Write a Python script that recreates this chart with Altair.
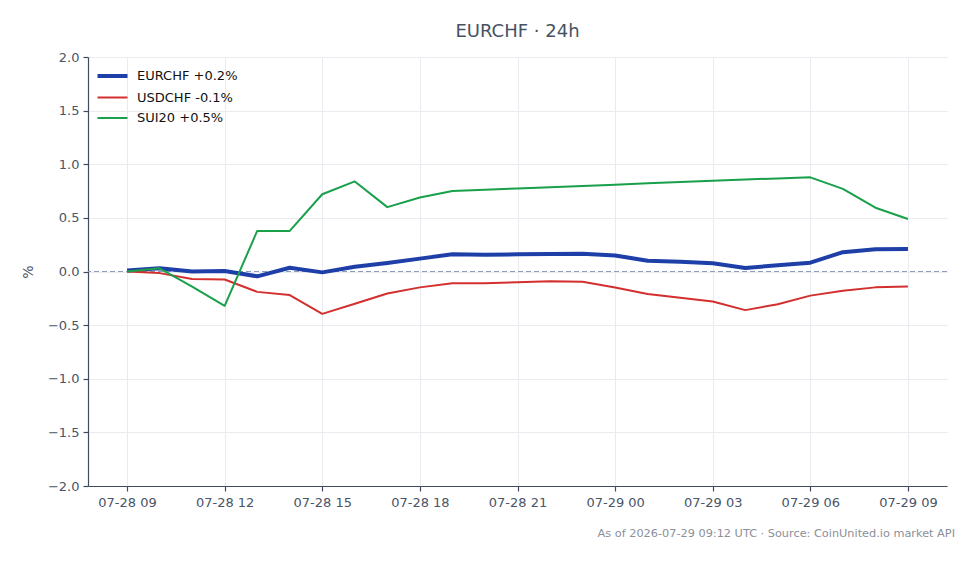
import altair as alt
import pandas as pd

# Hourly timestamps (UTC), 24h window
times = [
    "2026-07-28T09:00:00Z", "2026-07-28T10:00:00Z", "2026-07-28T11:00:00Z",
    "2026-07-28T12:00:00Z", "2026-07-28T13:00:00Z", "2026-07-28T14:00:00Z",
    "2026-07-28T15:00:00Z", "2026-07-28T16:00:00Z", "2026-07-28T17:00:00Z",
    "2026-07-28T18:00:00Z", "2026-07-28T19:00:00Z", "2026-07-28T20:00:00Z",
    "2026-07-28T21:00:00Z", "2026-07-28T22:00:00Z", "2026-07-28T23:00:00Z",
    "2026-07-29T00:00:00Z", "2026-07-29T01:00:00Z", "2026-07-29T02:00:00Z",
    "2026-07-29T03:00:00Z", "2026-07-29T04:00:00Z", "2026-07-29T05:00:00Z",
    "2026-07-29T06:00:00Z", "2026-07-29T07:00:00Z", "2026-07-29T08:00:00Z",
    "2026-07-29T09:00:00Z",
]

# Percent change since start of window
eurchf = [0.01, 0.03, 0.00, 0.005, -0.045, 0.035, -0.008, 0.045, 0.08, 0.12,
          0.16, 0.157, 0.16, 0.163, 0.166, 0.15, 0.10, 0.092, 0.077, 0.033,
          0.058, 0.082, 0.18, 0.207, 0.21]
usdchf = [0.00, -0.015, -0.07, -0.075, -0.19, -0.22, -0.395, -0.30, -0.205, -0.148,
          -0.11, -0.11, -0.10, -0.092, -0.095, -0.15, -0.21, -0.245, -0.28, -0.36,
          -0.305, -0.225, -0.18, -0.148, -0.14]
sui20 = [0.00, 0.03, -0.14, -0.32, 0.378, 0.378, 0.72, 0.84, 0.60, 0.69,
         0.75, 0.762, 0.774, 0.786, 0.798, 0.81, 0.822, 0.834, 0.846, 0.858,
         0.868, 0.878, 0.77, 0.595, 0.49]

series_names = ["EURCHF", "USDCHF", "SUI20"]
series_values = [eurchf, usdchf, sui20]
series_colors = ["#1e3fa8", "#d32f2f", "#18a04a"]
series_widths = [4, 2, 2]

x_ticks = [alt.DateTime(year=2026, month=7, date=d, hours=h, utc=True)
           for d, h in [(28, 9), (28, 12), (28, 15), (28, 18), (28, 21),
                        (29, 0), (29, 3), (29, 6), (29, 9)]]
y_ticks = [-2.0, -1.5, -1.0, -0.5, 0.0, 0.5, 1.0, 1.5, 2.0]

footer = "As of 2026-07-29 09:12 UTC · Source: CoinUnited.io market API"
title = "EURCHF · 24h"

# Legend labels carry the last change of each series
labels = [f"{n} {v[-1]:+.1f}%" for n, v in zip(series_names, series_values)]

rows = []
for lab, vals in zip(labels, series_values):
    for t, v in zip(times, vals):
        rows.append({"time": t, "pct": v, "series": lab})
df = pd.DataFrame(rows)

FONT = "DejaVu Sans"
AXIS_COLOR = "#3f4b5e"
LABEL_COLOR = "#4a5568"
GRID_COLOR = "#e8ecf1"

x_enc = alt.X(
    "time:T",
    scale=alt.Scale(
        type="utc",
        domain=[alt.DateTime(year=2026, month=7, date=28, hours=7, minutes=48, utc=True),
                alt.DateTime(year=2026, month=7, date=29, hours=10, minutes=12, utc=True)],
    ),
    axis=alt.Axis(values=x_ticks, format="%m-%d %H", title=None),
)
y_enc = alt.Y(
    "pct:Q",
    scale=alt.Scale(domain=[-2, 2], nice=False, zero=False),
    axis=alt.Axis(values=y_ticks, format=".1f", title="%"),
)

lines = alt.Chart(df).mark_line(strokeJoin="round", strokeCap="butt").encode(
    x=x_enc,
    y=y_enc,
    color=alt.Color(
        "series:N",
        scale=alt.Scale(domain=labels, range=series_colors),
        legend=alt.Legend(title=None),
        sort=labels,
    ),
    strokeWidth=alt.StrokeWidth(
        "series:N",
        scale=alt.Scale(type="ordinal", domain=labels, range=series_widths),
        legend=alt.Legend(title=None),
        sort=labels,
    ),
    order=alt.Order("time:T"),
)

zero = alt.Chart(pd.DataFrame({"y": [0.0]})).mark_rule(
    color="#8d9cb8", strokeWidth=1, strokeDash=[5, 3]
).encode(y=alt.Y("y:Q"))

foot = alt.Chart(pd.DataFrame({"t": [footer]})).mark_text(
    align="right", baseline="middle", font=FONT, fontSize=11.3, color="#8a8f99"
).encode(text="t:N", x=alt.value(867), y=alt.value(477))

chart = alt.layer(zero, lines, foot).properties(
    width=859,
    height=429,
    padding={"left": 88, "top": 57, "right": 32, "bottom": 78},
    autosize=alt.AutoSizeParams(type="none"),
    background="white",
    title=alt.TitleParams(
        title, font=FONT, fontSize=18, fontWeight="normal", color="#465264",
        anchor="middle", offset=10,
    ),
).configure_view(stroke=None).configure_axis(
    labelFont=FONT, labelFontSize=13, labelColor=LABEL_COLOR,
    titleFont=FONT, titleFontSize=14, titleColor=LABEL_COLOR, titleFontWeight="normal",
    domainColor=AXIS_COLOR, domainWidth=1.2, tickColor=AXIS_COLOR, tickSize=5,
    tickWidth=1.2, gridColor=GRID_COLOR, gridWidth=1, labelPadding=4,
).configure_axisY(titlePadding=12).configure_axisX(labelPadding=5).configure_legend(
    orient="none", legendX=15, legendY=9.5, labelFont=FONT, labelFontSize=13,
    labelColor="#111111", symbolType="M-2,0H2", symbolSize=225, rowPadding=4.5,
    padding=0, labelOffset=15,
)

chart.save("out.html", embed_options={"renderer": "svg", "actions": False})
